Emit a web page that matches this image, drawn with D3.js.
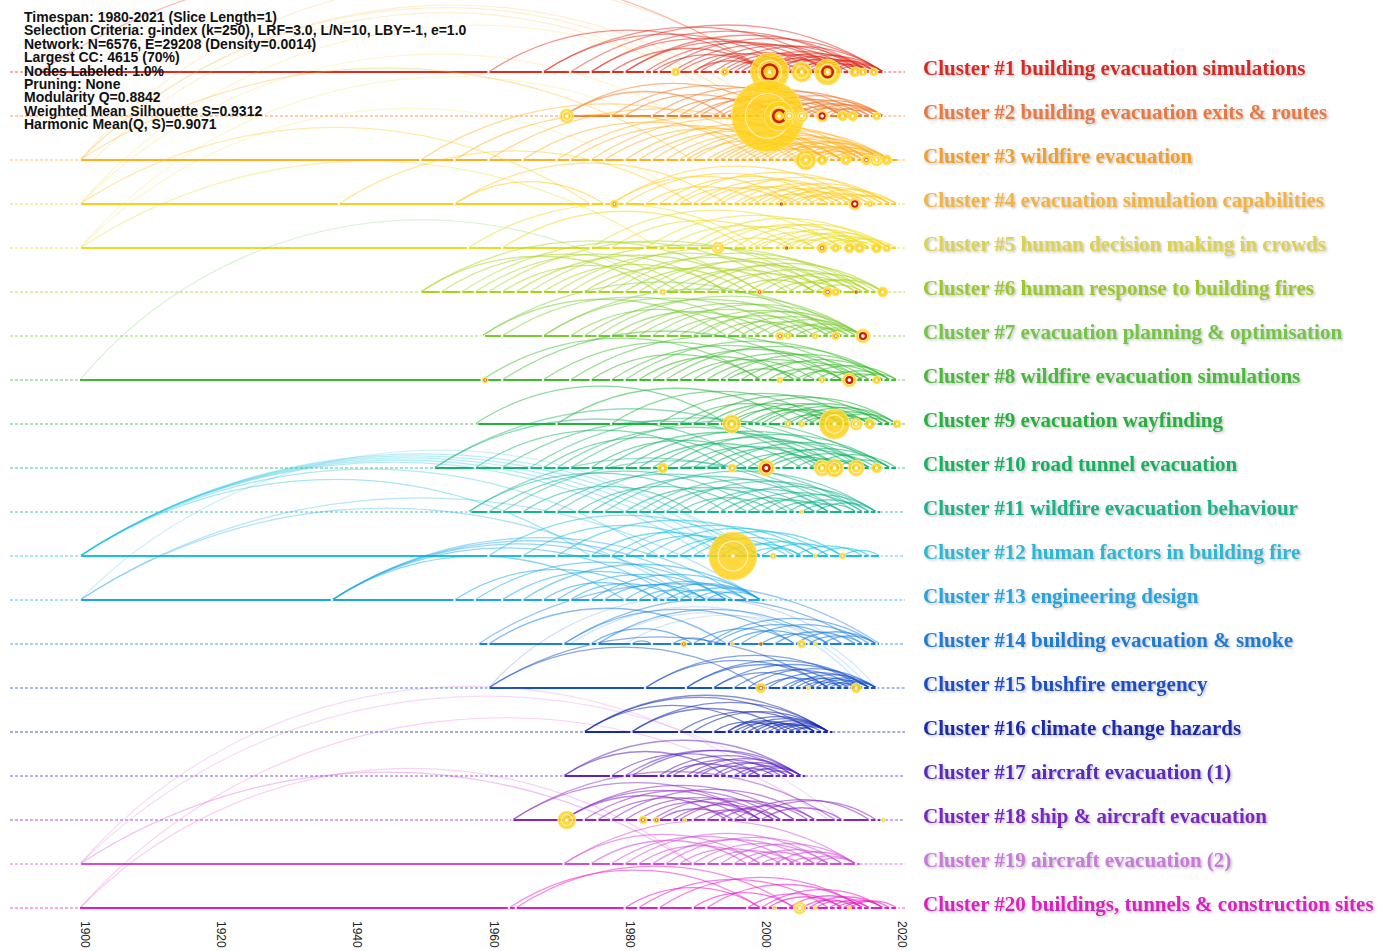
<!DOCTYPE html>
<html>
<head>
<meta charset="utf-8">
<script src="https://cdn.jsdelivr.net/npm/d3@7"></script>
<style>
  body { margin: 0; background: #fff; }
  svg { display: block; }
</style>
</head>
<body>
<svg id="chart" width="1395" height="951"></svg>
<script>
// Cluster labels, colours and time spans
const clusterLabels = [
  "Cluster #1 building evacuation simulations",
  "Cluster #2 building evacuation exits & routes",
  "Cluster #3 wildfire evacuation",
  "Cluster #4 evacuation simulation capabilities",
  "Cluster #5 human decision making in crowds",
  "Cluster #6 human response to building fires",
  "Cluster #7 evacuation planning & optimisation",
  "Cluster #8 wildfire evacuation simulations",
  "Cluster #9 evacuation wayfinding",
  "Cluster #10 road tunnel evacuation",
  "Cluster #11 wildfire evacuation behaviour",
  "Cluster #12 human factors in building fire",
  "Cluster #13 engineering design",
  "Cluster #14 building evacuation & smoke",
  "Cluster #15 bushfire emergency",
  "Cluster #16 climate change hazards",
  "Cluster #17 aircraft evacuation (1)",
  "Cluster #18 ship & aircraft evacuation",
  "Cluster #19 aircraft evacuation (2)",
  "Cluster #20 buildings, tunnels & construction sites"
];
const labelColors = ["#d42a26", "#e87a40", "#f0a02a", "#f2b440", "#dcd250", "#9cc82a",
  "#74c444", "#4cb83c", "#26b040", "#16b064", "#1cb08c", "#2ab8d4", "#28a4dc", "#1c7cd4",
  "#1c50c4", "#1c2cac", "#5a2cc0", "#7a28c0", "#c87ad8", "#d820c0"];
const lineColors = ["#e02a1c", "#f07a2c", "#ffb01c", "#ffcc1c", "#ecdc20", "#a8d418",
  "#78cc30", "#3cbc2c", "#20b43c", "#10b468", "#14b490", "#18c0e0", "#18a8e8", "#1880e0",
  "#1450cc", "#1428b0", "#5a24c4", "#8824c4", "#d24cd8", "#e818c8"];
const clusterStart = [1894, 1971, 1900, 1900, 1900, 1950, 1959.5, 1900, 1958.5, 1952,
  1957.5, 1900, 1900, 1958.5, 1960, 1974, 1971, 1963.5, 1900, 1900];
const clusterEnd = [2018, 2018, 2020, 2020, 2020, 2018, 2015, 2020, 2020, 2020,
  2017.5, 2017.5, 2000.5, 2017.5, 2017, 2010.5, 2006.5, 2017.5, 2014.5, 2020];

// Co-citation links inside each cluster, as flat [fromYear, toYear, ...] pairs
const clusterArcs = [
  [1894,2001, 1960,2001, 1968,2012, 1968,2005, 1972,2018, 1975,2015, 1975,2008, 1978,2001,
   1980,2016, 1980,2010, 1983,2012, 1984,2001, 1985,2018, 1987,2014, 1988,2006, 1990,2016,
   1990,2001, 1991,2010, 1993,2018, 1994,2012, 1995,2008, 1996,2016, 1997,2014, 1998,2011,
   1999,2017, 2000,2015, 2001,2013, 2002,2018, 2003,2016, 2004,2012, 2005,2017, 2006,2015,
   2007,2018, 2008,2016, 2010,2018, 2011,2017],
  [1971,2003, 1971,1995, 1978,2008, 1980,2001, 1984,2012, 1986,2003, 1988,2015, 1990,2006,
   1991,2012, 1993,2017, 1994,2004, 1995,2010, 1996,2014, 1997,2007, 1998,2018, 1999,2012,
   2000,2016, 2001,2009, 2002,2015, 2003,2018, 2004,2013, 2005,2017, 2006,2014, 2007,2018,
   2009,2016, 2010,2018, 2012,2018],
  [1900,1990, 1950,2005, 1955,2000, 1960,2010, 1965,2002, 1970,2012, 1972,2006, 1975,2016,
   1977,2008, 1980,2015, 1982,2010, 1984,2018, 1986,2012, 1988,2016, 1989,2008, 1990,2019,
   1992,2014, 1993,2010, 1994,2018, 1995,2016, 1996,2012, 1997,2019, 1998,2015, 1999,2010,
   2000,2018, 2001,2014, 2002,2019, 2003,2016, 2004,2012, 2005,2018, 2006,2015, 2007,2019,
   2008,2017, 2009,2014, 2010,2019, 2011,2018, 2013,2019],
  [1900,1975, 1938,1990, 1955,1977, 1955,1995, 1978,2005, 1978,2015, 1980,2010, 1983,2000,
   1985,2012, 1987,2018, 1988,2004, 1990,2014, 1991,2008, 1993,2019, 1994,2011, 1996,2016,
   1997,2006, 1998,2013, 1999,2019, 2000,2010, 2001,2017, 2002,2014, 2003,2019, 2004,2012,
   2005,2016, 2006,2020, 2007,2014, 2008,2018, 2010,2019, 2012,2020],
  [1900,1985, 1957,2000, 1962,1998, 1975,2012, 1978,2005, 1983,2015, 1986,2008, 1989,2018,
   1991,2012, 1993,2016, 1994,2004, 1996,2019, 1998,2014, 1999,2008, 2000,2018, 2002,2016,
   2003,2011, 2004,2019, 2005,2015, 2006,2018, 2008,2016, 2009,2019, 2010,2017, 2011,2020,
   2013,2019],
  [1950,1985, 1950,2000, 1953,1990, 1956,2005, 1958,1995, 1960,2010, 1962,1988, 1964,2000,
   1966,2012, 1968,1995, 1970,2008, 1972,2015, 1974,1998, 1976,2010, 1978,2016, 1980,2004,
   1982,2012, 1984,2017, 1986,2008, 1988,2014, 1990,2018, 1992,2010, 1994,2016, 1996,2008,
   1998,2014, 2000,2018, 2002,2012, 2004,2016, 2006,2018, 2008,2015],
  [1959,1995, 1959,2012, 1962,2000, 1968,2005, 1968,2014, 1972,1998, 1974,2010, 1976,2015,
   1978,2002, 1980,2012, 1982,2008, 1984,2015, 1986,2005, 1988,2013, 1990,2010, 1991,2015,
   1993,2007, 1995,2014, 1997,2011, 1999,2015, 2001,2012, 2003,2015, 2005,2013, 2007,2015,
   2009,2015],
  [1959,2000, 1962,2010, 1968,2005, 1972,2015, 1975,2000, 1978,2012, 1980,2018, 1982,2005,
   1984,2014, 1986,2019, 1988,2008, 1990,2016, 1992,2012, 1994,2019, 1995,2006, 1997,2015,
   1999,2019, 2001,2012, 2003,2018, 2005,2014, 2006,2020, 2008,2016, 2010,2019, 2012,2018,
   2014,2020],
  [1958,1995, 1970,2005, 1978,2010, 1985,2015, 1988,2008, 1990,2018, 1992,2012, 1994,2020,
   1995,2010, 1996,2016, 1998,2012, 1999,2019, 2000,2014, 2001,2018, 2003,2012, 2004,2020,
   2005,2016, 2006,2013, 2007,2019, 2008,2016, 2010,2020, 2011,2017, 2013,2019],
  [1952,2000, 1952,2010, 1958,1995, 1962,2008, 1966,2015, 1968,1998, 1970,2010, 1972,2018,
   1975,2002, 1977,2012, 1980,2016, 1982,2006, 1984,2014, 1986,2019, 1988,2009, 1990,2016,
   1992,2012, 1994,2019, 1996,2010, 1998,2016, 2000,2019, 2001,2012, 2003,2017, 2005,2014,
   2007,2020, 2009,2016, 2011,2019],
  [1957,1995, 1957,2010, 1960,2000, 1962,2012, 1965,1990, 1968,2005, 1970,2015, 1973,1998,
   1975,2010, 1977,2017, 1980,2004, 1982,2014, 1984,2008, 1986,2016, 1988,2002, 1990,2012,
   1992,2017, 1994,2008, 1996,2015, 1998,2010, 2000,2017, 2002,2012, 2004,2016, 2006,2014,
   2008,2017],
  [1900,1992, 1900,1994, 1900,1996, 1900,1998, 1900,2000, 1900,1985, 1900,1975, 1960,2000,
   1965,1995, 1970,2005, 1975,1998, 1978,2008, 1980,2000, 1983,2010, 1986,2004, 1988,2012,
   1990,2008, 1992,2000, 1994,2006, 1996,2010, 1998,2006, 2000,2012, 2005,2015, 2008,2016,
   2012,2017.5],
  [1900,2000, 1900,1990, 1937,1995, 1937,1992, 1937,1998, 1937,1988, 1937,1980, 1955,1985,
   1958,1995, 1962,1990, 1965,2000, 1968,1985, 1970,1995, 1972,1988, 1975,2000, 1977,1992,
   1980,1998, 1982,1992, 1984,2000, 1986,1996, 1988,2000, 1990,1998, 1992,2000],
  [1958.5,2017.5, 1960,1995, 1971,2005, 1971,2015, 1976,2010, 1975,1990, 1981,1984, 1987,1993,
   1990,2005, 1992,2017, 1993,2012, 1995,2008, 1997,2016, 2000,2010, 2002,2014, 2005,2017,
   2007,2015, 2009,2017],
  [1960,2010, 1960,2000, 1983,2010, 1983,2015, 1989,2012, 1989,2016, 1993,2008, 1993,2016,
   1996,2014, 1998,2017, 2000,2010, 2001,2016, 2003,2013, 2004,2017, 2005,2015, 2006,2012,
   2007,2017, 2008,2016, 2009,2014, 2010,2017, 2011,2016, 2012,2017],
  [1974,2008, 1974,2000, 1974,2010, 1981,2010, 1981,2004, 1988,2008, 1990,2010, 1993,2003,
   1995,2010, 1995,2006, 1996,2005, 1997,2010, 1998,2007, 1999,2010, 2000,2008, 2001,2010,
   2002,2009, 2003,2010, 2004,2008, 2005,2010],
  [1971,1995, 1971,2006, 1978,2000, 1980,2005, 1981,2006, 1985,2005, 1986,1998, 1987,2003,
   1989,2006, 1990,2000, 1991,2004, 1993,2006, 1994,2002, 1996,2006, 1997,2004, 1998,2006,
   2000,2005],
  [1963.5,2000, 1963.5,2011, 1971,2000, 1971,1995, 1971,2005, 1974,2003, 1976,1998, 1978,2008,
   1980,2002, 1982,2000, 1984,2005, 1985,1996, 1987,2002, 1988,2007, 1990,2000, 1992,2003,
   1994,2008, 1996,2016, 1998,2017, 2000,2012],
  [1900,1990, 1971,2000, 1971,2014, 1975,1998, 1978,2005, 1980,2010, 1982,2000, 1984,2008,
   1986,2012, 1988,2003, 1990,2010, 1992,2005, 1994,2014, 1996,2008, 1998,2012, 2000,2006,
   2002,2014, 2004,2010, 2006,2014, 2008,2014],
  [1964,2005, 1963,2000, 1980,2000, 1982,2010, 1985,2015, 1990,2005, 1992,2015, 1998,2012,
   2000,2018, 2001,2012, 2004,2016, 2006,2014, 2007,2018, 2008,2015, 2010,2018, 2011,2016,
   2012,2019, 2013,2020]
];

// Links between clusters: [fromCluster, fromYear, toCluster, toYear]
const crossLinks = [
  [3,1900,1,2001], [3,1900,2,2000], [3,1900,2,2002], [3,1902,2,1998], [4,1900,2,2001],
  [4,1900,3,1998], [5,1900,3,1995], [5,1900,4,1990], [8,1900,6,1986], [13,1900,12,1998],
  [14,1972,15,2016], [14,1976,15,2015], [14,1980,15,2017], [15,1960,14,2012],
  [19,1900,17,2000], [19,1900,18,2012], [20,1900,19,1990], [20,1900,18,2010]
];

// Cited references with citation bursts: [year, radius, burst]
const clusterNodes = [
  [[1987.5,4,0],[1994.7,4,1],[2001.3,19,1],[2006,10,0],[2009.8,13,1],[2013.8,5,0],[2015,4,0],[2016.6,4,0]],
  [[1971.5,7,0],[2001,36,0],[2002.7,15,1],[2004.2,6,0],[2006,6,0],[2009,6,1],[2012,5,0],[2013.5,5,0],[2017,4,0]],
  [[2005.5,4,0],[2006.6,10,0],[2009,5,0],[2012.5,5,0],[2015.5,5,1],[2017,6,0],[2018.5,5,0]],
  [[1978.5,4,1],[2003,2,1],[2013.8,6,1],[2016,3,0]],
  [[1993.7,6,0],[2003.8,2,1],[2009,5,1],[2011,4,0],[2013,5,0],[2014.5,5,0],[2017,5,0],[2018.5,4,0]],
  [[1985.6,3,0],[1999.8,3,1],[2009.8,5,1],[2011,4,0],[2014,2,1],[2017.9,5,0]],
  [[2002.8,4,1],[2004,3,0],[2008,3,0],[2011,4,1],[2015,7,1]],
  [[1959.5,3,1],[2002.8,3,0],[2009,3,0],[2013,7,1],[2017,4,0]],
  [[1995.7,9,0],[2004,3,0],[2006,3,0],[2010.8,15,0],[2014,6,0],[2016,5,0],[2020,4,0]],
  [[1985.6,5,0],[1995.8,4,0],[2000.8,8,1],[2009,8,0],[2010.8,9,0],[2014,8,0],[2017,5,0]],
  [[2006,2,0]],
  [[1995.9,24,0],[2001.8,3,0],[2008,2,0],[2012,3,0]],
  [],
  [[1988.7,3,1],[1995.8,2,0],[2000,2,1],[2006,4,0],[2008,2,0]],
  [[2000,5,1],[2007,2,0],[2014,5,0]],
  [],
  [],
  [[1971.5,9,0],[1982.7,4,1],[1984.7,3,1],[1988.8,2,0],[2018,2,0]],
  [],
  [[2002,2,0],[2005.7,6,0],[2008,2,0],[2013,2,0]]
];

const tickYears = [1900, 1920, 1940, 1960, 1980, 2000, 2020];

const statLines = [
  "Timespan: 1980-2021 (Slice Length=1)",
  "Selection Criteria: g-index (k=250), LRF=3.0, L/N=10, LBY=-1, e=1.0",
  "Network: N=6576, E=29208 (Density=0.0014)",
  "Largest CC: 4615 (70%)",
  "Nodes Labeled: 1.0%",
  "Pruning: None",
  "Modularity Q=0.8842",
  "Weighted Mean Silhouette S=0.9312",
  "Harmonic Mean(Q, S)=0.9071"
];

const svg = d3.select("#chart");

// Scales
const x = d3.scaleLinear().domain([1900, 2020]).range([80, 897]);
const y = d3.scaleLinear().domain([1, 20]).range([72, 908]);
// long links are drawn fainter than short recent ones
const arcOpacity = d3.scaleLinear().domain([10, 100]).range([0.6, 0.3]).clamp(true);

const defs = svg.append("defs");
defs.append("filter")
  .attr("id", "shadow")
  .attr("x", "-5%").attr("y", "-30%").attr("width", "110%").attr("height", "160%")
  .append("feDropShadow")
  .attr("dx", 1.5).attr("dy", 1.5).attr("stdDeviation", 1)
  .attr("flood-color", "#777").attr("flood-opacity", 0.45);

// circular arc from (x1,y1) to (x2,y2), bulging upward
function arcPath(x1, y1, x2, y2, k) {
  const c = Math.hypot(x2 - x1, y2 - y1);
  const h = k * c;
  const r = (c * c / 4 + h * h) / (2 * h);
  return `M${x1},${y1}A${r},${r} 0 0 1 ${x2},${y2}`;
}

// Timeline rows
const rows = svg.append("g");
clusterLabels.forEach((label, i) => {
  const cy = y(i + 1);
  const col = lineColors[i];
  rows.append("line")
    .attr("x1", 10).attr("x2", x(clusterStart[i]))
    .attr("y1", cy).attr("y2", cy)
    .attr("stroke", col).attr("stroke-width", 1.2)
    .attr("stroke-dasharray", "3,2").attr("opacity", 0.75);
  rows.append("line")
    .attr("x1", x(clusterEnd[i])).attr("x2", 905)
    .attr("y1", cy).attr("y2", cy)
    .attr("stroke", col).attr("stroke-width", 1.2)
    .attr("stroke-dasharray", "3,2").attr("opacity", 0.75);
  rows.append("line")
    .attr("x1", x(clusterStart[i])).attr("x2", x(clusterEnd[i]))
    .attr("y1", cy).attr("y2", cy)
    .attr("stroke", col).attr("stroke-width", 2.2);
});

// Arcs
const arcs = svg.append("g").attr("fill", "none");
crossLinks.forEach(([c1, y1, c2, y2]) => {
  arcs.append("path")
    .attr("d", arcPath(x(y1), y(c1), x(y2), y(c2), 0.19))
    .attr("stroke", lineColors[c1 - 1])
    .attr("stroke-width", 1.2)
    .attr("stroke-opacity", 0.2);
});
clusterArcs.forEach((list, i) => {
  const cy = y(i + 1);
  for (let j = 0; j < list.length; j += 2) {
    arcs.append("path")
      .attr("d", arcPath(x(list[j]), cy, x(list[j + 1]), cy, 0.15))
      .attr("stroke", lineColors[i])
      .attr("stroke-width", 1.3)
      .attr("stroke-opacity", arcOpacity(list[j + 1] - list[j]));
  }
});

// Small node markers at link ends
const dots = svg.append("g").attr("fill", "#fff");
clusterArcs.forEach((list, i) => {
  const years = Array.from(new Set(list));
  years.forEach(yr => {
    dots.append("circle")
      .attr("cx", x(yr)).attr("cy", y(i + 1)).attr("r", 1.3)
      .attr("opacity", 0.9);
  });
});

// Burst nodes
const nodes = svg.append("g");
clusterNodes.forEach((list, i) => {
  const cy = y(i + 1);
  list.forEach(([yr, r, hot]) => {
    const cx = x(yr);
    nodes.append("circle")
      .attr("cx", cx).attr("cy", cy).attr("r", r)
      .attr("fill", "#ffd21a").attr("fill-opacity", 0.85)
      .attr("stroke", "#ffe680").attr("stroke-width", 1);
    if (r >= 6) {
      nodes.append("circle")
        .attr("cx", cx).attr("cy", cy).attr("r", r * 0.62)
        .attr("fill", "none").attr("stroke", "#fff")
        .attr("stroke-width", 1.2).attr("stroke-opacity", 0.6);
    }
    if (hot) {
      nodes.append("circle")
        .attr("cx", cx).attr("cy", cy).attr("r", Math.max(1.5, r * 0.4))
        .attr("fill", r < 6 ? "#d0281a" : "none")
        .attr("stroke", "#c81e10").attr("stroke-width", r < 6 ? 0 : 2.5);
    }
    nodes.append("circle")
      .attr("cx", cx).attr("cy", cy).attr("r", Math.min(1.8, r * 0.3))
      .attr("fill", "#fff");
  });
});

// Cluster labels
svg.append("g")
  .attr("font-family", "'Liberation Serif', 'Times New Roman', serif")
  .attr("font-weight", "bold")
  .attr("font-size", 21)
  .attr("filter", "url(#shadow)")
  .selectAll("text")
  .data(clusterLabels)
  .join("text")
  .attr("x", 923)
  .attr("y", (d, i) => y(i + 1) + 3)
  .attr("fill", (d, i) => labelColors[i])
  .text(d => d);

// Year axis labels
svg.append("g")
  .attr("font-family", "'Liberation Sans', Arial, sans-serif")
  .attr("font-size", 12)
  .attr("fill", "#222")
  .selectAll("text")
  .data(tickYears)
  .join("text")
  .attr("transform", d => `translate(${x(d) + 1},921) rotate(90)`)
  .text(d => d);

// Network summary
svg.append("g")
  .attr("font-family", "'Liberation Sans', Arial, sans-serif")
  .attr("font-weight", "bold")
  .attr("font-size", 14)
  .attr("fill", "#111")
  .selectAll("text")
  .data(statLines)
  .join("text")
  .attr("x", 24)
  .attr("y", (d, i) => 22 + i * 13.4)
  .text(d => d);
</script>
</body>
</html>
